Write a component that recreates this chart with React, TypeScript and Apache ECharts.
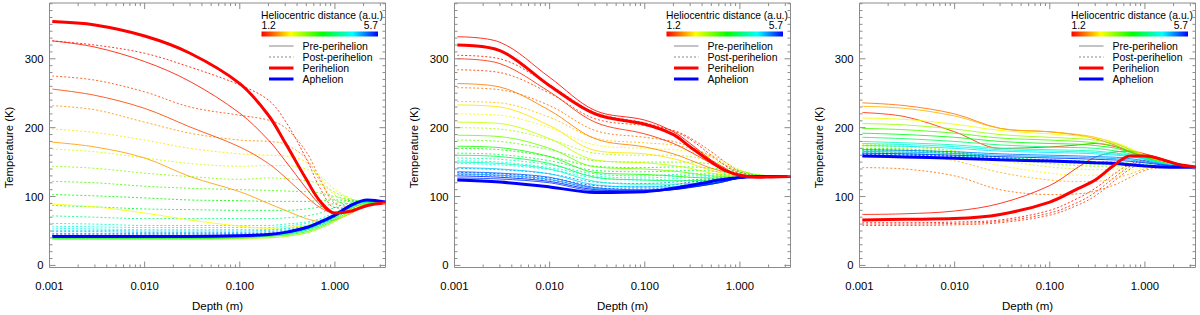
import React, { useEffect, useRef } from "react";
import * as echarts from "echarts";

// ---------- depth nodes (m) ----------
const DEPTH = [0.00107, 0.003, 0.01, 0.03, 0.1, 0.2, 0.3, 0.5, 0.7, 1.0, 1.5, 2.2, 3.4];

// ---------- axis ticks ----------
const X_MAJOR = [0.001, 0.01, 0.1, 1];
const X_MINOR = [0.002, 0.003, 0.004, 0.005, 0.006, 0.007, 0.008, 0.009,
  0.02, 0.03, 0.04, 0.05, 0.06, 0.07, 0.08, 0.09,
  0.2, 0.3, 0.4, 0.5, 0.6, 0.7, 0.8, 0.9, 2, 3];
const Y_MAJOR = [0, 100, 200, 300];
const Y_MINOR = [10, 20, 30, 40, 50, 60, 70, 80, 90, 110, 120, 130, 140, 150, 160, 170, 180, 190,
  210, 220, 230, 240, 250, 260, 270, 280, 290, 310, 320, 330, 340, 350, 360, 370, 380];

// ---------- colour bar range (a.u.) ----------
const DIST_MIN = 1.2;
const DIST_MAX = 5.7;

// ---------- Panel 1 ----------
const P1_PERI = [354, 349, 333, 308, 264, 218, 178, 125, 93, 76, 79, 87, 91];
const P1_APH = [42, 42, 42, 42, 43, 45, 48, 55, 63, 73, 88, 95, 92];
const P1_PRE_DIST = [1.3, 1.5, 1.9, 2.35, 2.8, 3.3, 3.9, 4.5, 5.0, 5.4];
const P1_PRE_TEMP = [
  [326, 317, 296, 267, 221, 182, 152, 112, 88, 76, 80, 88, 92],
  [256, 247, 228, 201, 172, 148, 128, 100, 84, 76, 80, 88, 92],
  [179, 172, 156, 129, 107, 90, 80, 68, 64, 66, 76, 88, 92],
  [89, 85, 76, 66, 57, 54, 55, 58, 63, 71, 83, 90, 92],
  [38, 38, 38, 38, 39, 40, 42, 47, 54, 64, 78, 88, 92],
  [39, 39, 39, 39, 40, 42, 44, 49, 56, 66, 80, 89, 92],
  [40, 40, 40, 40, 41, 43, 45, 51, 58, 68, 83, 91, 92],
  [41, 41, 41, 41, 42, 44, 46, 52, 60, 70, 85, 93, 92],
  [42, 42, 42, 42, 43, 44, 47, 53, 61, 71, 86, 94, 92],
  [43, 43, 43, 43, 44, 45, 48, 54, 62, 72, 87, 95, 92],
];
const P1_POST_DIST = [1.3, 1.55, 1.85, 2.2, 2.55, 2.9, 3.2, 3.5, 3.8, 4.1, 4.4, 4.55, 4.7, 4.85, 5.0, 5.3, 5.55];
const P1_POST_TEMP = [
  [326, 320, 308, 288, 262, 240, 210, 155, 112, 84, 83, 88, 92],
  [275, 269, 252, 230, 218, 211, 200, 165, 125, 90, 86, 89, 92],
  [232, 226, 208, 192, 182, 180, 176, 155, 122, 95, 89, 90, 92],
  [198, 193, 182, 170, 162, 160, 159, 150, 128, 102, 93, 91, 92],
  [169, 165, 156, 148, 144, 145, 145, 140, 130, 110, 97, 92, 92],
  [144, 141, 134, 129, 125, 127, 126, 123, 118, 106, 96, 92, 92],
  [122, 120, 115, 112, 110, 109, 108, 107, 105, 100, 95, 92, 92],
  [103, 101, 98, 95, 94, 93, 93, 93, 94, 95, 94, 92, 92],
  [87, 85, 82, 81, 80, 80, 80, 82, 85, 90, 93, 92, 92],
  [72, 70, 68, 68, 68, 68, 69, 72, 76, 84, 91, 92, 92],
  [61, 60, 58, 58, 58, 58, 60, 63, 68, 77, 88, 92, 92],
  [57, 56, 55, 55, 55, 55, 57, 61, 66, 75, 87, 92, 92],
  [54, 53, 52, 52, 52, 52, 54, 58, 64, 73, 86, 93, 92],
  [51, 51, 50, 50, 50, 51, 53, 57, 63, 72, 86, 93, 92],
  [49, 49, 48, 48, 48, 49, 51, 55, 61, 71, 85, 93, 92],
  [46, 46, 46, 46, 46, 47, 49, 53, 60, 70, 85, 94, 92],
  [44, 44, 44, 44, 44, 46, 48, 53, 60, 71, 86, 95, 92],
];

// ---------- Panel 2 ----------
const P2_PERI = [320, 312, 261, 220, 205, 190, 172, 150, 138, 131, 128, 128.5, 129];
const P2_APH = [124, 121, 114, 106, 107, 112, 116, 122, 125, 127.5, 129, 129, 129];
const P2_PRE_DIST = [1.25, 1.4, 1.75, 2.2, 2.6, 3.0, 3.4, 3.9, 4.4, 4.9, 5.1, 5.3, 5.45, 5.6];
const P2_PRE_TEMP = [
  [332, 324, 273, 225, 211, 194, 177, 153, 141, 129, 129, 129, 129],
  [300, 293, 252, 208, 191, 177, 165, 148, 138, 131, 130, 129, 129],
  [264, 259, 225, 184, 172, 162, 153, 141, 136, 131, 130, 129, 129],
  [233, 230, 203, 167, 162, 155, 148, 138, 133, 130, 129, 129, 129],
  [208, 206, 184, 153, 149, 145, 141, 134, 131, 129, 129, 129, 129],
  [189, 187, 170, 143, 140, 137, 134, 130, 129, 128, 128.5, 129, 129],
  [173, 171, 158, 135, 132, 130, 128, 127, 127, 127.5, 128.5, 129, 129],
  [160, 158, 148, 128, 124, 123, 123, 124, 125, 127, 128.5, 129, 129],
  [150, 148, 140, 122, 118, 118, 119, 121, 124, 127, 128.5, 129, 129],
  [142, 140, 133, 117, 114, 114, 116, 119, 123, 127, 128.5, 129, 129],
  [133, 131, 125, 111.5, 109, 110.5, 113.5, 118, 122, 127, 128.5, 129, 129],
  [136, 134, 128, 113, 110, 111, 114, 118, 122, 127, 128.5, 129, 129],
  [127, 125.5, 120, 108.5, 107.5, 110, 114, 119, 123, 127, 128.5, 129, 129],
  [130, 128, 122, 110, 108, 110, 113, 118, 122, 127, 128.5, 129, 129],
];
const P2_POST_DIST = [1.3, 1.45, 1.7, 2.05, 2.4, 2.75, 3.1, 3.5, 3.9, 4.3, 4.5, 4.7, 5.1, 5.3, 5.45];
const P2_POST_TEMP = [
  [305, 300, 262, 222, 207, 195, 183, 160, 145, 133, 129, 129, 129],
  [284, 280, 250, 213, 203, 196, 185, 165, 150, 136, 130, 129, 129],
  [258, 255, 232, 196, 186, 180, 172, 158, 146, 135, 130, 129, 129],
  [238, 236, 215, 185, 178, 175, 170, 160, 150, 138, 131, 129, 129],
  [220, 218, 200, 175, 170, 168, 165, 157, 149, 139, 132, 130, 129],
  [200, 198, 183, 163, 160, 160, 158, 152, 146, 138, 132, 130, 129],
  [182, 180, 168, 152, 150, 150, 150, 147, 142, 137, 132, 130, 129],
  [170, 168, 158, 144, 142, 143, 143, 141, 139, 135, 131, 130, 129],
  [163, 161, 152, 138, 136, 137, 138, 137, 135, 133, 130, 129.5, 129],
  [156, 154, 146, 133, 130, 132, 133, 133, 132, 131, 130, 129, 129],
  [152, 150, 142, 130, 127, 129, 131, 131, 131, 130.5, 129.5, 129, 129],
  [148, 146, 139, 127, 124, 126, 128, 129, 130, 130, 129.5, 129, 129],
  [141, 139, 133, 121, 119, 121, 124, 126, 128, 129, 129, 129, 129],
  [132, 130, 124, 113, 111, 114, 118, 122, 125, 128, 129, 129, 129],
  [135, 133, 127, 116, 114, 117, 121, 124, 126, 128, 129, 129, 129],
];

// ---------- Panel 3 ----------
const P3_PERI = [66, 67, 68, 74, 92, 112, 124, 148, 159, 159, 154, 147, 143];
const P3_APH = [159, 157.5, 155.5, 153.5, 151.5, 150, 149, 148, 146, 144.5, 143, 142.5, 142.5];
const P3_PRE_DIST = [1.3, 1.4, 1.7, 2.0, 2.4, 2.8, 3.2, 3.6, 4.0, 4.4, 4.6, 4.8, 5.0, 5.2, 5.5];
const P3_PRE_TEMP = [
  [74, 75, 79, 90, 116, 143, 157, 165, 166, 162, 155, 148, 143],
  [222, 216, 194, 170, 172, 175, 177, 172, 165, 158, 150, 145, 143],
  [236, 232, 220, 199, 194, 189, 184, 174, 165, 157, 149, 145, 143],
  [231, 228, 217, 199, 194, 190, 186, 177, 168, 159, 150, 145, 143],
  [214, 212, 205, 196, 191, 188, 185, 178, 170, 160, 150, 145, 143],
  [206, 204, 198, 190, 186, 184, 182, 176, 168, 159, 150, 145, 143],
  [199, 197, 192, 185, 182, 180, 178, 173, 166, 158, 150, 145, 143],
  [192, 190, 186, 180, 177, 176, 174, 170, 164, 157, 149, 145, 143],
  [186, 184, 180, 175, 172, 171, 170, 166, 162, 156, 149, 145, 143],
  [180, 178, 175, 170, 168, 167, 166, 163, 160, 155, 149, 145, 143],
  [177, 175.5, 172.5, 168, 166, 165, 164, 161.5, 159, 154.5, 148.5, 145, 143],
  [174, 173, 170, 166, 164, 163, 162, 160, 158, 154, 148, 145, 143],
  [165.5, 164.5, 162.5, 160, 158, 157, 156, 155, 153, 150.5, 146.5, 144, 143],
  [168, 167, 165, 162, 160, 159, 158, 157, 155, 152, 147, 144, 143],
  [163, 162, 160, 158, 156, 155, 154, 153, 151, 149, 146, 144, 143],
];
const P3_POST_DIST = [1.28, 1.35, 1.45, 1.7, 2.0, 2.3, 2.6, 2.9, 3.3, 3.55, 3.8, 4.4, 4.7, 5.0, 5.4];
const P3_POST_TEMP = [
  [62, 62, 63, 66, 80, 98, 112, 135, 147, 153, 151, 146, 143],
  [60, 60, 61, 64, 76, 92, 106, 130, 144, 152, 151, 146, 143],
  [58, 58, 59, 62, 73, 88, 101, 125, 140, 150, 150, 146, 143],
  [142, 140, 130, 110, 103, 104, 108, 118, 128, 138, 142, 143, 143],
  [165, 163, 152, 135, 124, 122, 122, 127, 133, 140, 143, 143, 143],
  [172, 170, 160, 145, 134, 131, 131, 134, 138, 142, 144, 143, 143],
  [176, 174, 166, 153, 143, 140, 139, 140, 142, 144, 144, 143, 143],
  [174, 172, 166, 156, 148, 145, 144, 144, 145, 145, 144, 143, 143],
  [170, 169, 164, 157, 151, 148, 147, 147, 147, 146, 144, 143, 143],
  [168.5, 167.5, 163, 157, 152, 149.5, 148.5, 148, 147.5, 146, 144, 143, 143],
  [167, 166, 162, 157, 153, 151, 150, 149, 148, 146, 144, 143, 143],
  [164, 163, 160, 156, 153, 152, 151, 150, 148, 146, 144, 143, 143],
  [163, 162, 159.5, 155.5, 153, 151.5, 150.5, 149.5, 147.5, 145.5, 144, 143, 143],
  [162, 161, 159, 155, 153, 151, 150, 149, 147, 145, 144, 143, 143],
  [161, 160, 158, 154, 152, 150, 149, 148, 146, 145, 143.5, 143, 143],
];

// ---------- texts ----------
const LEGEND_TITLE = "Heliocentric distance (a.u.)";
const LEGEND_LABELS = ["Pre-perihelion", "Post-perihelion", "Perihelion", "Aphelion"];
const X_TITLE = "Depth (m)";
const Y_TITLE = "Temperature (K)";

// ---------- styling ----------
const FONT = "'Liberation Sans', Arial, Helvetica, sans-serif";
const AXIS_COLOR = "#8c8c8c";
const PANEL_W = 336;
const PANEL_TOP = 3;
const PANEL_H = 264.5;
const panelLeft = (i: number) => 49.5 + 405 * i;

const CMAP: [number, number[]][] = [
  [0, [255, 0, 0]],
  [0.25, [255, 255, 0]],
  [0.52, [0, 255, 0]],
  [0.78, [0, 255, 255]],
  [1, [0, 0, 255]],
];

function rainbow(d: number): string {
  let t = (d - DIST_MIN) / (DIST_MAX - DIST_MIN);
  t = Math.max(0, Math.min(1, t));
  for (let k = 1; k < CMAP.length; k++) {
    const [t1, c1] = CMAP[k];
    const [t0, c0] = CMAP[k - 1];
    if (t <= t1) {
      const f = (t - t0) / (t1 - t0);
      const c = c0.map((v, j) => Math.round(v + (c1[j] - v) * f));
      return `rgb(${c[0]},${c[1]},${c[2]})`;
    }
  }
  return "rgb(0,0,255)";
}

const PANELS = [
  { peri: P1_PERI, aph: P1_APH, preDist: P1_PRE_DIST, preTemp: P1_PRE_TEMP, postDist: P1_POST_DIST, postTemp: P1_POST_TEMP },
  { peri: P2_PERI, aph: P2_APH, preDist: P2_PRE_DIST, preTemp: P2_PRE_TEMP, postDist: P2_POST_DIST, postTemp: P2_POST_TEMP },
  { peri: P3_PERI, aph: P3_APH, preDist: P3_PRE_DIST, preTemp: P3_PRE_TEMP, postDist: P3_POST_DIST, postTemp: P3_POST_TEMP },
];

const toPoints = (vals: number[]) => DEPTH.map((d, k) => [d, vals[k]]);

function lineSeries(i: number, vals: number[], color: string, width: number, dashed: boolean) {
  return {
    type: "line",
    xAxisIndex: i,
    yAxisIndex: i,
    data: toPoints(vals),
    showSymbol: false,
    symbol: "none",
    smooth: 0.35,
    silent: true,
    z: 2,
    lineStyle: { color, width, type: dashed ? [2, 2] : "solid", opacity: width > 2 ? 1 : 0.85 },
    emphasis: { disabled: true },
  };
}

function tickSeries(i: number) {
  return {
    type: "custom",
    xAxisIndex: i,
    yAxisIndex: i,
    silent: true,
    z: 5,
    data: [[0.01, 100]],
    renderItem: (params: any, api: any) => {
      const cs = params.coordSys;
      const top = cs.y;
      const bottom = cs.y + cs.height;
      const left = cs.x;
      const right = cs.x + cs.width;
      const children: any[] = [];
      const ln = (x1: number, y1: number, x2: number, y2: number) => ({
        type: "line",
        shape: { x1, y1, x2, y2 },
        style: { stroke: AXIS_COLOR, lineWidth: 1 },
      });
      const addX = (v: number, len: number) => {
        const px = api.coord([v, 100])[0];
        children.push(ln(px, bottom, px, bottom - len), ln(px, top, px, top + len));
      };
      const addY = (v: number, len: number) => {
        const py = api.coord([0.01, v])[1];
        children.push(ln(left, py, left + len, py), ln(right, py, right - len, py));
      };
      X_MAJOR.forEach((v) => addX(v, 6));
      X_MINOR.forEach((v) => addX(v, 3));
      Y_MAJOR.forEach((v) => addY(v, 6));
      Y_MINOR.forEach((v) => addY(v, 3));
      return { type: "group", children };
    },
  };
}

function panelGraphics(i: number) {
  const L = panelLeft(i);
  const txt = (text: string, x: number, y: number, size: number, align: string, extra: any = {}) => ({
    type: "text",
    x,
    y,
    silent: true,
    z: 20,
    ...extra,
    style: {
      text,
      fill: "#000",
      fontSize: size,
      fontFamily: FONT,
      textAlign: align,
      align,
      textVerticalAlign: "middle",
      verticalAlign: "middle",
    },
  });
  const els: any[] = [];
  els.push(txt(LEGEND_TITLE, L + 211.5, 15, 10.3, "left"));
  els.push(txt(String(DIST_MIN), L + 212, 25.5, 10.3, "left"));
  els.push(txt(String(DIST_MAX), L + 328.5, 25.5, 10.3, "right"));
  els.push({
    type: "rect",
    silent: true,
    z: 20,
    shape: { x: L + 212, y: 31.5, width: 116.5, height: 5 },
    style: {
      fill: {
        type: "linear",
        x: 0,
        y: 0,
        x2: 1,
        y2: 0,
        colorStops: CMAP.map(([t, c]) => ({ offset: t, color: `rgb(${c[0]},${c[1]},${c[2]})` })),
      },
    },
  });
  const legendStyles = [
    { stroke: "#888", lineWidth: 1, lineDash: null },
    { stroke: "#888", lineWidth: 1, lineDash: [2, 2] },
    { stroke: "#ff0000", lineWidth: 3, lineDash: null },
    { stroke: "#0000ff", lineWidth: 3, lineDash: null },
  ];
  const rows = [46, 57, 68, 79];
  LEGEND_LABELS.forEach((lab, k) => {
    const st: any = { stroke: legendStyles[k].stroke, lineWidth: legendStyles[k].lineWidth };
    if (legendStyles[k].lineDash) st.lineDash = legendStyles[k].lineDash;
    els.push({
      type: "line",
      silent: true,
      z: 20,
      shape: { x1: L + 219.5, y1: rows[k], x2: L + 244, y2: rows[k] },
      style: st,
    });
    els.push(txt(lab, L + 253, rows[k], 10.5, "left"));
  });
  els.push(txt(X_TITLE, L + PANEL_W / 2, 306, 11.5, "center"));
  els.push(txt(Y_TITLE, L - 40.5, 147.5, 11.3, "center", { rotation: Math.PI / 2 }));
  return els;
}

function buildOption() {
  const series: any[] = [];
  PANELS.forEach((p, i) => {
    p.postTemp.forEach((vals, k) => series.push(lineSeries(i, vals, rainbow(p.postDist[k]), 1, true)));
    p.preTemp.forEach((vals, k) => series.push(lineSeries(i, vals, rainbow(p.preDist[k]), 1, false)));
    series.push(lineSeries(i, p.aph, "#0000ff", 3, false));
    series.push(lineSeries(i, p.peri, "#ff0000", 3, false));
    series.push(tickSeries(i));
  });
  const idx = [0, 1, 2];
  return {
    animation: false,
    backgroundColor: "#fff",
    grid: idx.map((i) => ({
      left: panelLeft(i),
      top: PANEL_TOP,
      width: PANEL_W,
      height: PANEL_H,
      show: true,
      borderColor: AXIS_COLOR,
      borderWidth: 1,
      backgroundColor: "transparent",
    })),
    xAxis: idx.map((i) => ({
      type: "log",
      logBase: 10,
      gridIndex: i,
      min: 0.001,
      max: 3.4,
      axisLine: { show: false },
      axisTick: { show: false },
      splitLine: { show: false },
      minorTick: { show: false },
      axisLabel: {
        color: "#000",
        fontSize: 11.3,
        fontFamily: FONT,
        margin: 13,
        showMaxLabel: false,
        formatter: (v: number) => {
          const l = Math.log10(v);
          return Math.abs(l - Math.round(l)) < 1e-6 ? v.toFixed(3) : "";
        },
      },
    })),
    yAxis: idx.map((i) => ({
      type: "value",
      gridIndex: i,
      min: -3,
      max: 381,
      axisLine: { show: false },
      axisTick: { show: false },
      splitLine: { show: false },
      axisLabel: {
        color: "#000",
        fontSize: 11.3,
        fontFamily: FONT,
        margin: 6,
        formatter: (v: number) => (Math.abs(v % 100) < 1e-6 && v >= 0 ? String(Math.round(v)) : ""),
      },
    })),
    series,
    graphic: idx.flatMap((i) => panelGraphics(i)),
  };
}

export default function App() {
  const ref = useRef<HTMLDivElement>(null);
  useEffect(() => {
    if (!ref.current) return;
    const chart = echarts.init(ref.current, undefined, { renderer: "svg" });
    chart.setOption(buildOption() as any);
    return () => chart.dispose();
  }, []);
  return (
    <div
      ref={ref}
      style={{ position: "absolute", left: 0, top: 0, width: 1200, height: 315, background: "#fff" }}
    />
  );
}
